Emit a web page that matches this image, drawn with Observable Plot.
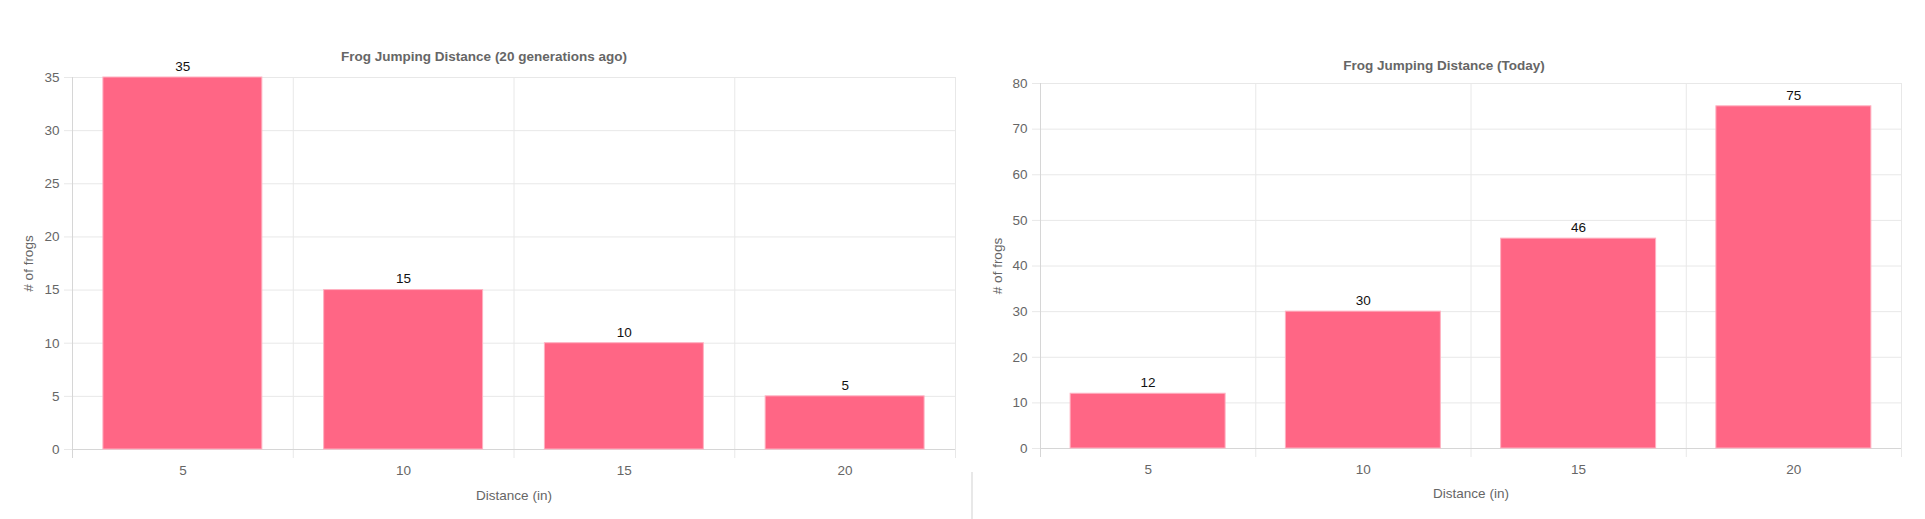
<!DOCTYPE html>
<html>
<head>
<meta charset="utf-8">
<script src="https://cdn.jsdelivr.net/npm/d3@7"></script>
<script src="https://cdn.jsdelivr.net/npm/@observablehq/plot@0.6"></script>
<style>
  html, body { margin: 0; padding: 0; background: #fff; }
  #page { position: relative; width: 1925px; height: 519px; overflow: hidden; }
  .chart { position: absolute; top: 0; }
  #sep { position: absolute; left: 971px; top: 472px; width: 2px; height: 47px; background: #e8e8e8; }
</style>
</head>
<body>
<div id="page">
  <div id="left" class="chart" style="left:0px"></div>
  <div id="sep"></div>
  <div id="right" class="chart" style="left:975px"></div>
</div>
<script>
// ---- data ----
const distances = [5, 10, 15, 20];
const countsPast = [35, 15, 10, 5];
const countsToday = [12, 30, 46, 75];
const titlePast = "Frog Jumping Distance (20 generations ago)";
const titleToday = "Frog Jumping Distance (Today)";
const xLabel = "Distance (in)";
const yLabel = "# of frogs";
const yTicksPast = [0, 5, 10, 15, 20, 25, 30, 35];
const yTicksToday = [0, 10, 20, 30, 40, 50, 60, 70, 80];
const categoryBounds = [2.5, 7.5, 12.5, 17.5, 22.5];

const STEP = 5;
const BAR_FRACTION = 0.72;
const GRID = "#e8e8e8";
const AXIS = "#d6d6d6";
const BAR_FILL = "#ff6685";
const BAR_STROKE = "#ffb1c1";
const TEXT = "#666";

function chart({counts, yTicks, yMax, title, width, margins, titleDx, titleDy, xLabelDy, yLabelDx}) {
  const data = distances.map((d, i) => ({dist: d, count: counts[i]}));
  const half = STEP * BAR_FRACTION / 2;
  return Plot.plot({
    width,
    height: 519,
    ...margins,
    style: {fontFamily: "'Liberation Sans', Arial, Helvetica, sans-serif", fontSize: "13.5px", color: TEXT, background: "transparent"},
    x: {type: "linear", domain: [categoryBounds[0], categoryBounds[categoryBounds.length - 1]]},
    y: {domain: [0, yMax]},
    marks: [
      Plot.ruleY(yTicks, {stroke: GRID, insetLeft: -8}),
      Plot.ruleX(categoryBounds, {stroke: GRID, insetBottom: -9}),
      Plot.ruleX([categoryBounds[0]], {stroke: AXIS, insetBottom: -9}),
      Plot.ruleY([0], {stroke: AXIS}),
      Plot.rectY(data, {x1: d => d.dist - half, x2: d => d.dist + half, y1: 0, y2: "count", fill: BAR_FILL, stroke: BAR_STROKE, strokeWidth: 1}),
      Plot.text(data, {x: "dist", y: "count", text: d => String(d.count), dy: -11, fill: "#111", fontSize: 13.5}),
      Plot.axisY({ticks: yTicks, tickSize: 0, tickPadding: 13, label: null, tickFormat: d => String(d), fill: TEXT}),
      Plot.axisX({ticks: distances, tickSize: 0, tickPadding: 16, label: null, tickFormat: d => String(d), fill: TEXT}),
      Plot.text([xLabel], {frameAnchor: "bottom", lineAnchor: "middle", textAnchor: "middle", dy: xLabelDy, fill: TEXT, fontSize: 13.5}),
      Plot.text([yLabel], {frameAnchor: "left", lineAnchor: "middle", textAnchor: "middle", dx: yLabelDx, rotate: -90, fill: TEXT, fontSize: 13.5}),
      Plot.text([title], {frameAnchor: "top", lineAnchor: "middle", textAnchor: "middle", dx: titleDx, dy: titleDy, fill: TEXT, fontSize: 13.5, fontWeight: "bold"})
    ]
  });
}

document.getElementById("left").append(chart({
  counts: countsPast, yTicks: yTicksPast, yMax: 35, title: titlePast,
  width: 965, margins: {marginLeft: 72, marginRight: 10, marginTop: 77, marginBottom: 70},
  titleDx: -30, titleDy: -21, xLabelDy: 46, yLabelDx: -44
}));

document.getElementById("right").append(chart({
  counts: countsToday, yTicks: yTicksToday, yMax: 80, title: titleToday,
  width: 950, margins: {marginLeft: 65, marginRight: 24, marginTop: 83, marginBottom: 71},
  titleDx: -27, titleDy: -18, xLabelDy: 45, yLabelDx: -43
}));
</script>
</body>
</html>
